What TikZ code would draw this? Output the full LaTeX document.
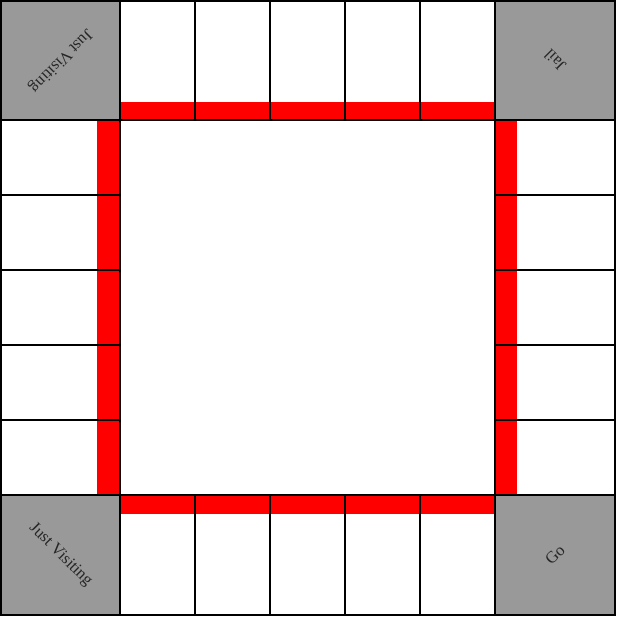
\documentclass[tikz,border=0pt]{standalone}
\usepackage{fontspec}
\setmainfont{Liberation Serif}
\usepackage{tikz}

\definecolor{cornergray}{HTML}{999999}
\definecolor{setred}{HTML}{FF0000}

\tikzset{
  cell/.style={draw=black,line width=1.8pt},
  corner/.style={draw=black,line width=1.8pt,fill=cornergray},
  colourbar/.style={fill=setred},
  cornerlabel/.style={font=\fontsize{16.5}{18}\selectfont,text=black!85}
}

\begin{document}
\begin{tikzpicture}[x=1pt,y=-1pt]
 \useasboundingbox (0,0) rectangle (618,618);
 % colour bars of the street groups
 \fill[colourbar] (120,102) rectangle (495,120);
 \fill[colourbar] (120,495) rectangle (495,514);
 \fill[colourbar] (97,120) rectangle (120,495);
 \fill[colourbar] (495,120) rectangle (517,495);
 % street cells
 \foreach \a in {120,195,270,345,420}{
   \draw[cell] (\a,1) rectangle (\a+75,120);
   \draw[cell] (\a,495) rectangle (\a+75,615);
   \draw[cell] (1,\a) rectangle (120,\a+75);
   \draw[cell] (495,\a) rectangle (615,\a+75);
 }
 % corners
 \draw[corner] (1,1) rectangle (120,120);
 \draw[corner] (495,1) rectangle (615,120);
 \draw[corner] (1,495) rectangle (120,615);
 \draw[corner] (495,495) rectangle (615,615);
 \node[cornerlabel,rotate=-135] (visittop) at (60.5,60.5) {Just Visiting};
 \node[cornerlabel,rotate=135] (jail) at (555,60.5) {Jail};
 \node[cornerlabel,rotate=-45] (visitbottom) at (60.5,555) {Just Visiting};
 \node[cornerlabel,rotate=45] (go) at (555,555) {Go};
\end{tikzpicture}
\end{document}
